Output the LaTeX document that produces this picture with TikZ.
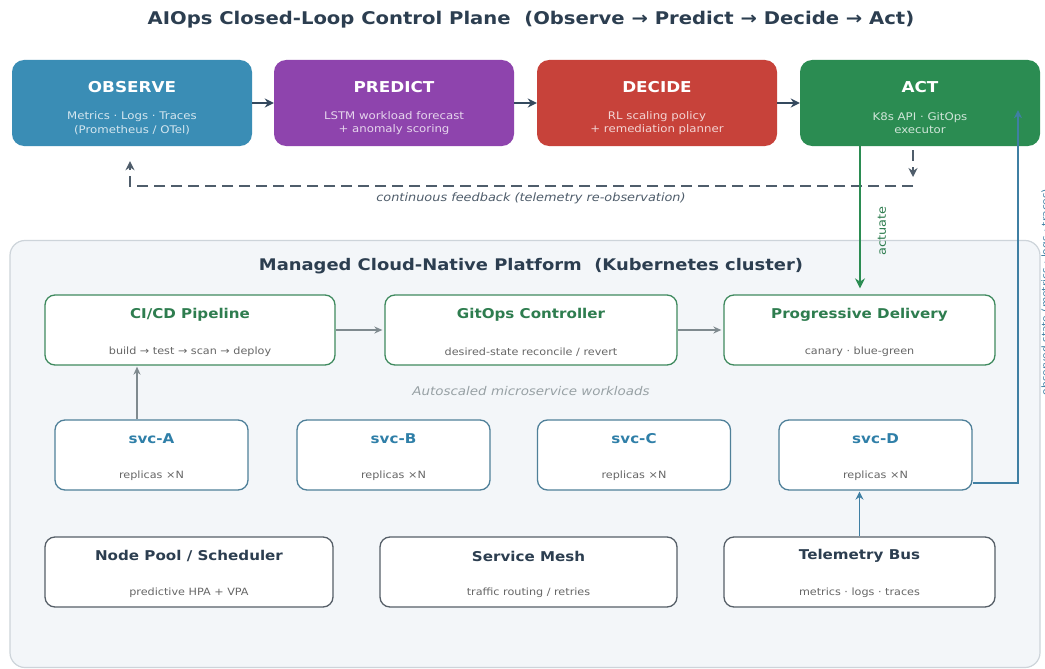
\documentclass[tikz,border=0pt]{standalone}
\usepackage{fontspec}
\setmainfont[FakeStretch=1.12]{DejaVu Sans}
\usetikzlibrary{arrows.meta}
\definecolor{ink}{HTML}{2C3E50}
\definecolor{cobs}{HTML}{3A8DB5}
\definecolor{cpre}{HTML}{8E44AD}
\definecolor{cdec}{HTML}{C7423A}
\definecolor{cact}{HTML}{2B8C52}
\definecolor{darrow}{HTML}{34495E}
\definecolor{fbgray}{HTML}{4F5D6B}
\definecolor{clfill}{HTML}{F3F6F9}
\definecolor{clline}{HTML}{CDD4DA}
\definecolor{gborder}{HTML}{3F8A5F}
\definecolor{gtitle}{HTML}{2E7D4F}
\definecolor{sborder}{HTML}{4F8099}
\definecolor{stitle}{HTML}{2F7FA8}
\definecolor{kborder}{HTML}{565F68}
\definecolor{subgray}{HTML}{666666}
\definecolor{arrgray}{HTML}{7F8A8F}
\definecolor{bline}{HTML}{3F7FA3}
\begin{document}
\begin{tikzpicture}[x=1pt,y=-1pt,
  topbox/.style={rounded corners=12pt, minimum width=240pt, minimum height=86pt, inner sep=0pt, draw=none},
  toptitle/.style={text=white, font=\fontsize{15}{17}\selectfont\bfseries},
  topsub/.style={align=center, font=\fontsize{10.5}{13.5}\selectfont},
  rowbox/.style={rounded corners=10pt, fill=white, line width=1.3pt, minimum height=70pt, inner sep=0pt},
  rtitle/.style={font=\fontsize{13.5}{15}\selectfont\bfseries},
  rsub/.style={text=subgray, font=\fontsize{10}{11}\selectfont},
  darr/.style={draw=darrow, line width=2.2pt, -{Stealth[length=9pt,width=9pt]}},
  garr/.style={draw=arrgray, line width=1.6pt, -{Stealth[length=8pt,width=7pt]}},
  fb/.style={draw=fbgray, line width=2.4pt, dash pattern=on 11pt off 6pt, -{Stealth[length=9pt,width=9pt]}}
]
\useasboundingbox (0,0) rectangle (1045,669);
\fill[white] (0,0) rectangle (1045,669);

% title
\node[text=ink, font=\fontsize{17.5}{20}\selectfont\bfseries] (title) at (531,20) {AIOps Closed-Loop Control Plane\ \ (Observe → Predict → Decide → Act)};

% cluster
\node[draw=clline, fill=clfill, line width=1.2pt, rounded corners=15pt, minimum width=1030pt, minimum height=427pt, inner sep=0pt] (cluster) at (525,454) {};
\node[text=ink, font=\fontsize{16}{18}\selectfont\bfseries] (ctitle) at (531,266) {Managed Cloud-Native Platform\ \ (Kubernetes cluster)};

% top row
\node[topbox, fill=cobs] (obs) at (132,103) {};
\node[topbox, fill=cpre] (pre) at (394,103) {};
\node[topbox, fill=cdec] (dec) at (657,103) {};
\node[topbox, fill=cact] (act) at (920,103) {};
\node[toptitle] at ([yshift=16pt]obs.center) {OBSERVE};
\node[toptitle] at ([yshift=16pt]pre.center) {PREDICT};
\node[toptitle] at ([yshift=16pt]dec.center) {DECIDE};
\node[toptitle] at ([yshift=16pt]act.center) {ACT};
\node[topsub, text=white!78!cobs] at ([yshift=-20pt]obs.center) {Metrics · Logs · Traces\\(Prometheus / OTel)};
\node[topsub, text=white!78!cpre] at ([yshift=-20pt]pre.center) {LSTM workload forecast\\+ anomaly scoring};
\node[topsub, text=white!78!cdec] at ([yshift=-20pt]dec.center) {RL scaling policy\\+ remediation planner};
\node[topsub, text=white!78!cact] at ([yshift=-20pt]act.center) {K8s API · GitOps\\executor};

\draw[darr] (obs.east) -- (pre.west);
\draw[darr] (pre.east) -- (dec.west);
\draw[darr] (dec.east) -- (act.west);

% feedback
\coordinate (fbR) at (913,186);
\coordinate (fbL) at (130,186);
\draw[fb, shorten <=4pt, shorten >=9pt] (act.south -| fbR) -- (fbR);
\draw[fb, shorten >=15pt] (fbR) -- (fbL) -- (obs.south -| fbL);
\node[text=fbgray, font=\fontsize{11.5}{12}\selectfont\itshape] (fblab) at (531,198) {continuous feedback (telemetry re-observation)};

% row 1
\node[rowbox, draw=gborder, minimum width=290pt] (cicd) at (190,330) {};
\node[rowbox, draw=gborder, minimum width=292pt] (gitops) at (531,330) {};
\node[rowbox, draw=gborder, minimum width=271pt] (prog) at (859.5,330) {};
\node[rtitle, text=gtitle] at ([yshift=15pt]cicd.center) {CI/CD Pipeline};
\node[rtitle, text=gtitle] at ([yshift=15pt]gitops.center) {GitOps Controller};
\node[rtitle, text=gtitle] at ([yshift=15pt]prog.center) {Progressive Delivery};
\node[rsub] at ([yshift=-22pt]cicd.center) {build → test → scan → deploy};
\node[rsub] at ([yshift=-22pt]gitops.center) {desired-state reconcile / revert};
\node[rsub] at ([yshift=-22pt]prog.center) {canary · blue-green};
\draw[garr, shorten >=2pt] (cicd.east) -- (gitops.west);
\draw[garr, shorten >=2pt] (gitops.east) -- (prog.west);

% actuate
\coordinate (actx) at (860,0);
\draw[draw=cact, line width=2.2pt, -{Stealth[length=10pt,width=10pt]}, shorten >=6pt] (act.south -| actx) -- (prog.north -| actx);
\node[text=gtitle, rotate=90, font=\fontsize{11.5}{12}\selectfont] (actlab) at (882,231) {actuate};

\node[text=arrgray!80!white, font=\fontsize{12}{13}\selectfont\itshape] (autolab) at (531,391) {Autoscaled microservice workloads};

% svc row
\node[rowbox, draw=sborder, minimum width=193pt] (svcA) at (151.5,455) {};
\node[rowbox, draw=sborder, minimum width=193pt] (svcB) at (393.5,455) {};
\node[rowbox, draw=sborder, minimum width=193pt] (svcC) at (634,455) {};
\node[rowbox, draw=sborder, minimum width=193pt] (svcD) at (875.5,455) {};
\foreach \n/\t in {svcA/svc-A, svcB/svc-B, svcC/svc-C, svcD/svc-D}{
  \node[rtitle, text=stitle] at ([yshift=16pt]\n.center) {\t};
  \node[rsub] at ([yshift=-21pt]\n.center) {replicas ×N};
}
\coordinate (ax) at (137,0);
\draw[garr, shorten >=1pt] (svcA.north -| ax) -- (cicd.south -| ax);

% bottom row
\node[rowbox, draw=kborder, minimum width=288pt] (pool) at (189,572) {};
\node[rowbox, draw=kborder, minimum width=297pt] (mesh) at (528.5,572) {};
\node[rowbox, draw=kborder, minimum width=271pt] (tel) at (859.5,572) {};
\node[rtitle, text=ink] at ([yshift=16pt]pool.center) {Node Pool / Scheduler};
\node[rtitle, text=ink] at ([yshift=16pt]mesh.center) {Service Mesh};
\node[rtitle, text=ink] at ([yshift=16pt]tel.center) {Telemetry Bus};
\node[rsub] at ([yshift=-21pt]pool.center) {predictive HPA + VPA};
\node[rsub] at ([yshift=-21pt]mesh.center) {traffic routing / retries};
\node[rsub] at ([yshift=-21pt]tel.center) {metrics · logs · traces};

\draw[draw=bline, line width=1.6pt, -{Stealth[length=8pt,width=8pt]}, shorten >=1pt] (tel.north) -- (svcD.south -| tel.north);

% observed telemetry back to ACT
\coordinate (bx) at (1018,483);
\draw[draw=bline, line width=1.6pt, -{Stealth[length=8pt,width=8pt]}] ([yshift=-28pt]svcD.east) -- (bx) -- ([yshift=36pt]act.south -| bx);
\node[text=bline, rotate=90, font=\fontsize{9.5}{11}\selectfont] (obslab) at (1046,292) {observed state (metrics · logs · traces)};
\end{tikzpicture}
\end{document}
